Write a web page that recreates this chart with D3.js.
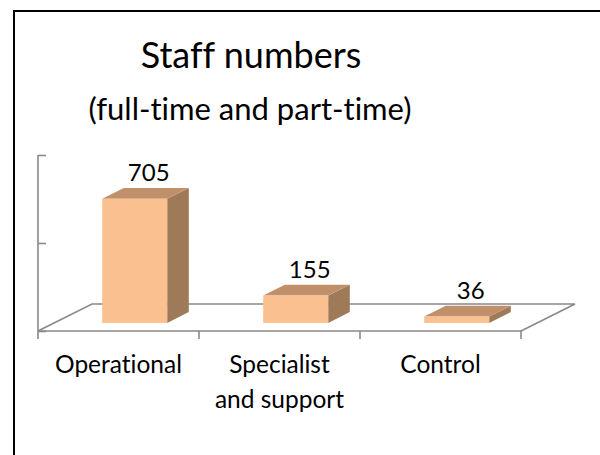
<!DOCTYPE html>
<html>
<head>
<meta charset="utf-8">
<script src="https://cdn.jsdelivr.net/npm/d3@7"></script>
<style>
  body { margin: 0; background: #fff; }
  text { font-family: Lato, "Open Sans", sans-serif; fill: #000; font-variant-ligatures: none; }
</style>
</head>
<body>
<svg id="chart" width="600" height="455"></svg>
<script>
const categories = ["Operational", "Specialist\nand support", "Control"];
const values = [705, 155, 36];
const yTicks = [0, 500, 1000];
const titleLines = ["Staff numbers", "(full-time and part-time)"];

const svg = d3.select("#chart");

// chart border (runs off the right and bottom edge)
svg.append("rect")
  .attr("x", 14).attr("y", 11)
  .attr("width", 620).attr("height", 470)
  .attr("fill", "none").attr("stroke", "#000").attr("stroke-width", 2);

// front plane geometry + depth of the floor
const x0 = 38, x1 = 521, floorY = 331;
const depth = { dx: 54, dy: -27 };
const barDepthStart = 0.3, barDepthEnd = 0.7;

const xScale = d3.scaleBand().domain(categories).range([x0, x1]).paddingInner(0).paddingOuter(0);
const yScale = d3.scaleLinear().domain([0, 1000]).range([floorY, 155]);
const barW = 65;

const axisColor = "#898989";

// floor
const floor = svg.append("g").attr("stroke", axisColor).attr("stroke-width", 1.6).attr("fill", "none");
floor.append("path")
  .attr("d", `M${x0},${floorY} L${x0 + depth.dx},${floorY + depth.dy} L${x1 + depth.dx},${floorY + depth.dy} L${x1},${floorY}`);

// vertical axis
const yAxis = d3.axisRight(yScale).tickValues(yTicks).tickSize(8).tickFormat("");
const yg = svg.append("g").attr("transform", `translate(${x0},0)`).call(yAxis);
yg.select(".domain").attr("d", `M0,${yScale(1000)}V${floorY}`);
yg.selectAll("line, path").attr("stroke", axisColor).attr("stroke-width", 1.6);

// category axis
const xAxis = d3.axisBottom(xScale).tickSize(0).tickFormat("");
const xg = svg.append("g").attr("transform", `translate(0,${floorY})`).call(xAxis);
xg.select(".domain").attr("d", `M${x0},0H${x1}`);
xg.selectAll("line, path").attr("stroke", axisColor).attr("stroke-width", 1.6);
// ticks at band edges
xg.selectAll(".edge").data(d3.range(categories.length + 1)).enter().append("line")
  .attr("x1", i => x0 + i * xScale.bandwidth())
  .attr("x2", i => x0 + i * xScale.bandwidth())
  .attr("y1", 0).attr("y2", 8)
  .attr("stroke", axisColor).attr("stroke-width", 1.6);

// category labels
const catLabels = svg.append("g");
categories.forEach((c, i) => {
  const t = catLabels.append("text")
    .attr("x", xScale(c) + xScale.bandwidth() / 2)
    .attr("y", 373)
    .attr("text-anchor", "middle")
    .style("font-size", "24.5px");
  c.split("\n").forEach((line, j) => {
    t.append("tspan").attr("x", xScale(c) + xScale.bandwidth() / 2).attr("dy", j === 0 ? 0 : 35).text(line);
  });
});

// 3d bars
const offX = depth.dx * barDepthStart, offY = depth.dy * barDepthStart;
const bdx = depth.dx * (barDepthEnd - barDepthStart), bdy = depth.dy * (barDepthEnd - barDepthStart);
const bars = svg.append("g");
categories.forEach((c, i) => {
  const left = xScale(c) + (xScale.bandwidth() - barW) / 2 + offX;
  const bottom = floorY + offY;
  const h = floorY - yScale(values[i]);
  const top = bottom - h;
  const right = left + barW;
  // side
  bars.append("path")
    .attr("d", `M${right},${bottom} L${right + bdx},${bottom + bdy} L${right + bdx},${top + bdy} L${right},${top} Z`)
    .attr("fill", "#9E7A58");
  // top
  bars.append("path")
    .attr("d", `M${left},${top} L${left + bdx},${top + bdy} L${right + bdx},${top + bdy} L${right},${top} Z`)
    .attr("fill", "#C0906B");
  // front
  bars.append("rect")
    .attr("x", left).attr("y", top).attr("width", barW).attr("height", h)
    .attr("fill", "#FAC08F");
  // value label
  svg.append("text")
    .attr("x", left + barW / 2 + 14)
    .attr("y", top + bdy - 7)
    .attr("text-anchor", "middle")
    .style("font-size", "24px")
    .text(values[i]);
});

// title
svg.append("text").attr("x", 251).attr("y", 68).attr("text-anchor", "middle")
  .style("font-size", "36px").text(titleLines[0]);
svg.append("text").attr("x", 250).attr("y", 120).attr("text-anchor", "middle")
  .style("font-size", "31px").text(titleLines[1]);
</script>
</body>
</html>
